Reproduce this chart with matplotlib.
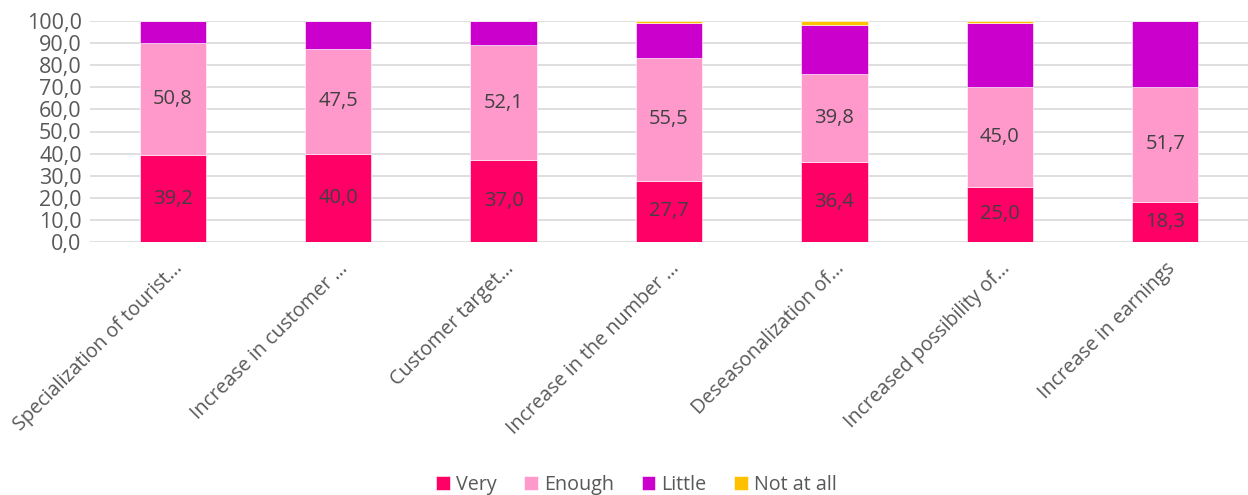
import matplotlib
matplotlib.use('Agg')
import matplotlib.pyplot as plt
import numpy as np

categories = ["Specialization of tourist\u2026", "Increase in customer \u2026", "Customer target\u2026",
              "Increase in the number \u2026", "Deseasonalization of\u2026", "Increased possibility of\u2026",
              "Increase in earnings"]
very = [39.2, 40.0, 37.0, 27.7, 36.4, 25.0, 18.3]
enough = [50.8, 47.5, 52.1, 55.5, 39.8, 45.0, 51.7]
little = [10.0, 12.5, 10.9, 15.9, 22.0, 29.2, 30.0]
not_at_all = [0.0, 0.0, 0.0, 0.9, 1.8, 0.8, 0.0]

series = [("Very", very, "#FF0066"), ("Enough", enough, "#FF99CC"),
          ("Little", little, "#CC00CC"), ("Not at all", not_at_all, "#FFC000")]

plt.rcParams['font.family'] = ['Open Sans', 'DejaVu Sans']
txt = "#595959"

fig = plt.figure(figsize=(12.48, 4.95), dpi=100)
ax = fig.add_axes([90 / 1248, 1 - 242 / 495, 1158 / 1248, 221 / 495])

x = np.arange(len(categories))
bottom = np.zeros(len(categories))
for name, vals, col in series:
    bars = ax.bar(x, vals, 0.4, bottom=bottom, color=col, label=name,
                  edgecolor="white", linewidth=0.4, zorder=3)
    if name in ("Very", "Enough"):
        for b, v in zip(bars, vals):
            ax.text(b.get_x() + b.get_width() / 2, b.get_y() + v / 2,
                    ("%.1f" % v).replace(".", ","), ha="center", va="center",
                    fontsize=14.5, color="#404040", zorder=4)
    bottom += np.array(vals)

ax.set_xlim(-0.5, len(categories) - 0.5)
ax.set_ylim(0, 100)
ax.set_yticks(np.arange(0, 101, 10))
ax.set_yticklabels([("%.1f" % t).replace(".", ",") for t in np.arange(0, 101, 10)],
                   fontsize=15.5, color=txt)
ax.set_xticks(x)
ax.set_xticklabels(categories, rotation=45, ha="right", rotation_mode="anchor",
                   fontsize=14.2, color=txt)
ax.tick_params(axis="both", length=0, pad=6)
ax.tick_params(axis="x", pad=12)
ax.grid(axis="y", color="#D9D9D9", linewidth=1.2, zorder=0)
for s in ax.spines.values():
    s.set_visible(False)

fig.legend(loc="lower center", bbox_to_anchor=(0.51, -0.035), ncol=4, frameon=False,
           fontsize=14.2, labelcolor=txt, handlelength=0.7, handleheight=0.7,
           handletextpad=0.3, columnspacing=1.4)

fig.savefig("out.png", dpi=100)
